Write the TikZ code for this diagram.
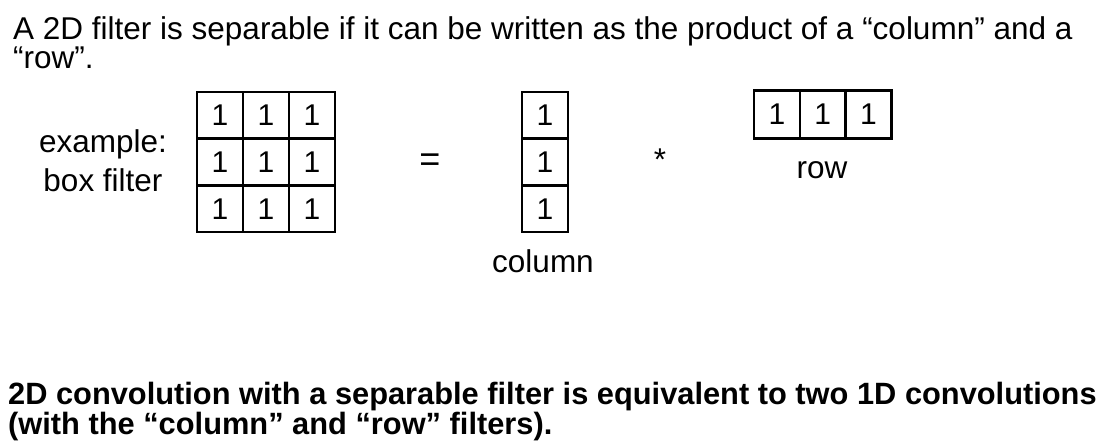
\documentclass[tikz,border=0pt]{standalone}
\usepackage{fontspec}
\setmainfont{Liberation Sans}
\begin{document}
\begin{tikzpicture}[x=1pt,y=-1pt,
  txt/.style={inner sep=0pt,font=\fontsize{31.5}{37}\selectfont},
  big/.style={inner sep=0pt,font=\fontsize{30.8}{36}\selectfont\bfseries},
  cell/.style={draw,line width=2.2pt,minimum width=46pt,minimum height=46.5pt,inner sep=0pt,font=\fontsize{30}{36}\selectfont},
]
\useasboundingbox (0,0) rectangle (1103,444);
\node[txt,anchor=base west] (t1) at (13,40) {A 2D filter is separable if it can be written as the product of a “column” and a};
\node[txt,anchor=base west] (t2) at (13,69) {“row”.};
% matrix 3x3
\foreach \r in {0,1,2}{
  \foreach \c in {0,1,2}{
    \node[cell] (m\r\c) at (220+46*\c, 115+47*\r) {1};
  }
}
\node[txt,anchor=base] (ex) at (103,152) {example:};
\node[txt,anchor=base] (ex2) at (103,191) {box filter};
\node[txt,font=\fontsize{36}{40}\selectfont] (eq) at (430,163) {=};
% column
\foreach \r in {0,1,2}{
  \node[cell] (c\r) at (545, 115+47*\r) {1};
}
\node[txt,anchor=base] (clab) at (543,272) {column};
\node[txt] (star) at (660,160) {*};
% row
\foreach \c in {0,1,2}{
  \node[cell,minimum height=48pt] (r\c) at (777+45.7*\c, 114.5) {1};
}
\node[txt,anchor=base] (rlab) at (822,178) {row};
\node[big,anchor=base west] (b1) at (8,404) {2D convolution with a separable filter is equivalent to two 1D convolutions};
\node[big,anchor=base west] (b2) at (8,434) {(with the “column” and “row” filters).};
\end{tikzpicture}
\end{document}
